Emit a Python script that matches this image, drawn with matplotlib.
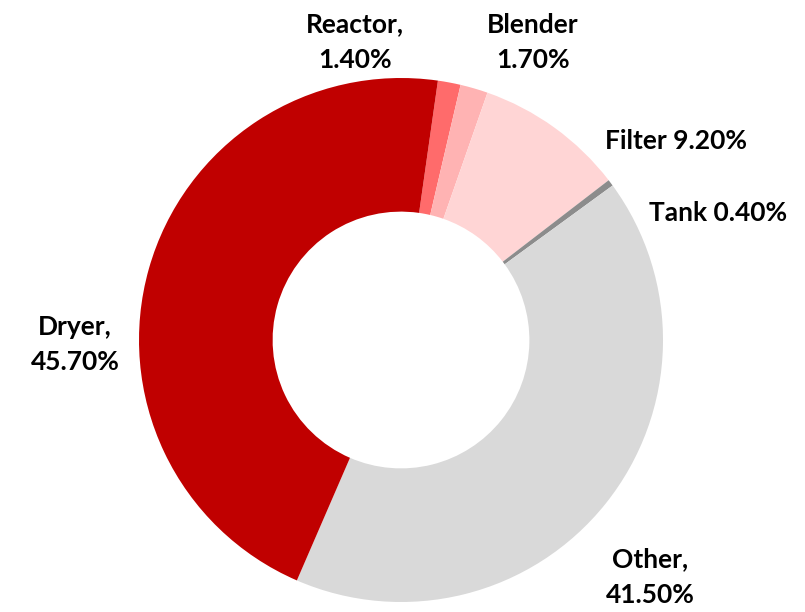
import matplotlib.pyplot as plt

labels = ["Reactor", "Blender", "Filter", "Tank", "Other", "Dryer"]
values = [1.4, 1.7, 9.2, 0.4, 41.5, 45.7]
label_texts = ["Reactor,\n1.40%", "Blender\n1.70%", "Filter 9.20%", "Tank 0.40%", "Other,\n41.50%", "Dryer,\n45.70%"]
colors = ["#FF6B6B", "#FFB3B3", "#FFD5D5", "#8C8C8C", "#D9D9D9", "#C00000"]
# label centers in data units (pie radius = 1)
label_pos = [(-0.176, 1.137), (0.504, 1.137), (1.05, 0.76), (1.21, 0.485), (0.95, -0.905), (-1.244, -0.019)]

W, H = 805, 612
cx, cy, r = 401, 340, 262

fig = plt.figure(figsize=(W / 100, H / 100), dpi=100)
ax = fig.add_axes([(cx - r) / W, (H - cy - r) / H, 2 * r / W, 2 * r / H])

ax.pie(
	values,
	colors=colors,
	startangle=81.9,
	counterclock=False,
	radius=1.0,
	wedgeprops=dict(width=0.51, edgecolor="none"),
)
ax.set_xlim(-1, 1)
ax.set_ylim(-1, 1)
ax.set_aspect("equal")
ax.axis("off")

for text, (x, y) in zip(label_texts, label_pos):
	ax.text(
		x, y, text,
		ha="center", va="center",
		fontsize=19, fontweight="bold", family="Lato",
		linespacing=1.55, clip_on=False, color="black",
	)

fig.savefig("out.png", dpi=100)
